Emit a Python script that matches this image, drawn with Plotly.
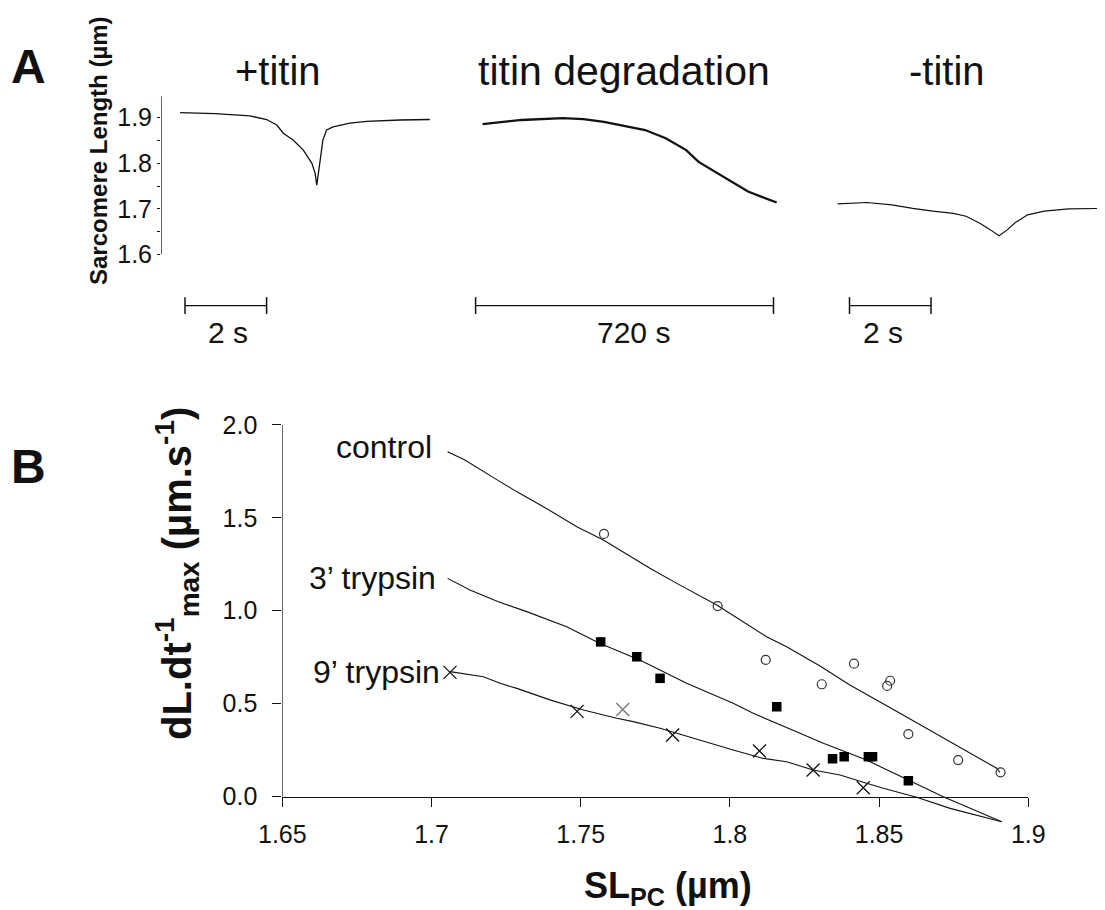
import plotly.graph_objects as go

W, H = 1105, 910
OFF = 8  # page body margin of the html page

# ---------------- Panel A data ----------------
# +titin trace (time in s, sarcomere length in um)
t1_time = [-0.12, 0.74, 1.59, 2.0, 2.25, 2.41, 2.65, 2.90, 3.11, 3.19, 3.23,
           3.31, 3.38, 3.47, 3.63, 4.04, 4.45, 5.27, 6.0]
t1_sl = [1.911, 1.909, 1.904, 1.896, 1.884, 1.866, 1.851, 1.829, 1.80, 1.778, 1.752,
         1.80, 1.851, 1.873, 1.880, 1.888, 1.892, 1.895, 1.896]

# titin degradation trace (time in s)
t2_time = [16.9, 111.4, 210.8, 260.5, 310.3, 359.9, 409.7, 459.5, 509.0, 539.0,
           578.6, 618.5, 658.4, 727.7]
t2_sl = [1.886, 1.895, 1.899, 1.897, 1.891, 1.882, 1.873, 1.855, 1.829, 1.803,
         1.782, 1.760, 1.738, 1.714]

# -titin trace (time in s)
t3_time = [-0.29, 0.43, 1.04, 1.55, 2.05, 2.55, 2.86, 3.21, 3.46, 3.67, 3.87,
           4.07, 4.37, 4.78, 5.38, 6.22]
t3_sl = [1.711, 1.714, 1.709, 1.701, 1.695, 1.690, 1.684, 1.668, 1.654, 1.641,
         1.654, 1.670, 1.687, 1.695, 1.700, 1.701]

panelA_titles = ["+titin", "titin degradation", "-titin"]
scale_bars = [[0, 2], [0, 720], [0, 2]]
scale_labels = ["2 s", "720 s", "2 s"]
sl_ticks = [1.6, 1.7, 1.8, 1.9]
sl_minor = [1.65, 1.75, 1.85]

# ---------------- Panel B data ----------------
ctrl_x = [1.7578, 1.7959, 1.8120, 1.8416, 1.8308, 1.8537, 1.8527, 1.8598, 1.8765, 1.8907]
ctrl_y = [1.413, 1.025, 0.735, 0.715, 0.604, 0.623, 0.595, 0.336, 0.196, 0.130]
ctrl_fit_x = [1.7054, 1.7112, 1.7224, 1.7285, 1.7375, 1.7487, 1.7576, 1.7665, 1.7732,
              1.7822, 1.7956, 1.8123, 1.8190, 1.8302, 1.8402, 1.8570, 1.8738, 1.8894, 1.8905]
ctrl_fit_y = [1.856, 1.811, 1.700, 1.641, 1.560, 1.452, 1.380, 1.291, 1.228,
              1.147, 1.031, 0.860, 0.806, 0.702, 0.600, 0.448, 0.295, 0.152, 0.130]

tr3_x = [1.7567, 1.7688, 1.7766, 1.8157, 1.8344, 1.8383, 1.8464, 1.8478, 1.8598]
tr3_y = [0.832, 0.752, 0.636, 0.483, 0.203, 0.214, 0.214, 0.214, 0.085]
tr3_fit_x = [1.7054, 1.7129, 1.7224, 1.7319, 1.7453, 1.7565, 1.7698, 1.7777, 1.7855,
             1.8011, 1.8078, 1.8235, 1.8313, 1.8458, 1.8598, 1.8715, 1.8911]
tr3_fit_y = [1.174, 1.111, 1.048, 0.995, 0.914, 0.824, 0.735, 0.672, 0.609,
             0.502, 0.448, 0.340, 0.286, 0.196, 0.089, -0.001, -0.136]

tr9_x = [1.7062, 1.7488, 1.7641, 1.7808, 1.8099, 1.8279, 1.8447]
tr9_y = [0.668, 0.458, 0.468, 0.331, 0.245, 0.143, 0.047]
tr9_fit_x = [1.7062, 1.7174, 1.7230, 1.7286, 1.7397, 1.7509, 1.7621, 1.7676, 1.7766,
             1.7877, 1.8011, 1.8112, 1.8190, 1.8279, 1.8369, 1.8458, 1.8514, 1.8626,
             1.8738, 1.8911]
tr9_fit_y = [0.672, 0.645, 0.609, 0.582, 0.520, 0.466, 0.421, 0.403, 0.367,
             0.313, 0.250, 0.205, 0.187, 0.143, 0.116, 0.071, 0.044, -0.004,
             -0.064, -0.136]

group_labels = ["control", "3’ trypsin", "9’ trypsin"]
xb_ticks = [1.65, 1.7, 1.75, 1.8, 1.85, 1.9]
xb_ticktext = ["1.65", "1.7", "1.75", "1.8", "1.85", "1.9"]
yb_ticks = [0.0, 0.5, 1.0, 1.5, 2.0]

FONT = "Liberation Sans, Arial, sans-serif"
BLACK = "#111111"
tr9_colors = [BLACK, BLACK, "#777777", BLACK, BLACK, BLACK, BLACK]


def px(x):
    return min(1.0, max(0.0, (x - OFF) / W))


def py(y):
    return min(1.0, max(0.0, 1 - (y - OFF) / H))


def rng_from_px(p0, p1, zero_px, px_per_unit):
    """axis range for a domain spanning screen pixels p0..p1"""
    return [(p0 - zero_px) / px_per_unit, (p1 - zero_px) / px_per_unit]


fig = go.Figure()

# ---------- Panel A traces ----------
fig.add_trace(go.Scatter(x=t1_time, y=t1_sl, mode="lines", xaxis="x", yaxis="y",
                         line=dict(color=BLACK, width=1.3), showlegend=False))
fig.add_trace(go.Scatter(x=t2_time, y=t2_sl, mode="lines", xaxis="x2", yaxis="y",
                         line=dict(color=BLACK, width=2.3), showlegend=False))
fig.add_trace(go.Scatter(x=t3_time, y=t3_sl, mode="lines", xaxis="x3", yaxis="y",
                         line=dict(color=BLACK, width=1.2), showlegend=False))

bar_y = 1.488
label_y = 1.428
axes_A = ["x", "x2", "x3"]
label_shift = [2, 9, -7]
for ax, bar, lab, sh in zip(axes_A, scale_bars, scale_labels, label_shift):
    fig.add_trace(go.Scatter(x=bar, y=[bar_y, bar_y], mode="lines+markers",
                             xaxis=ax, yaxis="y",
                             line=dict(color=BLACK, width=1.3),
                             marker=dict(symbol="line-ns", size=12,
                                         line=dict(color=BLACK, width=1.5)),
                             showlegend=False))
    fig.add_annotation(x=(bar[0] + bar[1]) / 2, y=label_y, xref=ax, yref="y",
                       text=lab, showarrow=False, xshift=sh,
                       xanchor="center", yanchor="middle",
                       font=dict(family=FONT, size=30, color=BLACK))

# ---------- Panel B traces ----------
fit_style = dict(color=BLACK, width=1.1)
for fx, fy in [(ctrl_fit_x, ctrl_fit_y), (tr3_fit_x, tr3_fit_y), (tr9_fit_x, tr9_fit_y)]:
    fig.add_trace(go.Scatter(x=fx, y=fy, mode="lines", xaxis="x4", yaxis="y4",
                             line=fit_style, showlegend=False))

fig.add_trace(go.Scatter(x=ctrl_x, y=ctrl_y, mode="markers", xaxis="x4", yaxis="y4",
                         marker=dict(symbol="circle-open", size=9, color="#333333",
                                     line=dict(width=1.2)),
                         showlegend=False))
fig.add_trace(go.Scatter(x=tr3_x, y=tr3_y, mode="markers", xaxis="x4", yaxis="y4",
                         marker=dict(symbol="square", size=9.5, color="black"),
                         showlegend=False))
fig.add_trace(go.Scatter(x=tr9_x, y=tr9_y, mode="markers", xaxis="x4", yaxis="y4",
                         marker=dict(symbol="x-thin-open", size=13, color=tr9_colors,
                                     line=dict(width=1.3)),
                         showlegend=False))

# group labels at the start of each fitted line
label_offsets = [(-14, 5), (-10, 0), (-8, 0)]
for lab, fx, fy, (dx, dy) in zip(group_labels,
                                 [ctrl_fit_x, tr3_fit_x, tr9_fit_x],
                                 [ctrl_fit_y, tr3_fit_y, tr9_fit_y],
                                 label_offsets):
    fig.add_annotation(x=fx[0], y=fy[0], xref="x4", yref="y4", text=lab,
                       showarrow=False, xanchor="right", yanchor="middle",
                       xshift=dx, yshift=dy,
                       font=dict(family=FONT, size=32, color=BLACK))

# ---------- Layout geometry (screen pixels of the reference) ----------
# panel A: shared sarcomere-length axis, 1.9 um at y=117.7 px, 456 px per um
A_top, A_bot = 90, 340
yA_rng = [1.9 - (A_bot - 117.7) / 456, 1.9 + (117.7 - A_top) / 456]
yA_dom = [py(A_bot), py(A_top)]
A_x_px = [(161, 440), (470, 790), (830, OFF + W)]
A_zero = [185, 475.6, 849.5]          # pixel where each scale bar starts
A_scale = [40.8, 1 / 2.417, 40.75]    # pixels per second
xA_doms = [[px(a), px(b)] for a, b in A_x_px]
xA_rngs = [rng_from_px(a, b, z, s) for (a, b), z, s in zip(A_x_px, A_zero, A_scale)]

# panel B: 1.65 at x=282.3 px, 2984 px per um; 0 at y=796.5 px, 185.8 px per unit
xB_px = (282.3, 1028.3)
xB_rng = [1.65, 1.9]
xB_dom = [px(xB_px[0]), px(xB_px[1])]
yB_rng = [-0.16, 2.02]
yB_dom = [py(796.5 - yB_rng[0] * 185.8), py(796.5 - yB_rng[1] * 185.8)]
xB_pos = yB_dom[0] + (0 - yB_rng[0]) / (yB_rng[1] - yB_rng[0]) * (yB_dom[1] - yB_dom[0])

hidden = dict(visible=False, showgrid=False, zeroline=False, automargin=False)
layout = dict(
    width=W, height=H,
    autosize=False,
    margin=dict(l=0, r=0, t=0, b=0, pad=0, autoexpand=False),
    paper_bgcolor="white", plot_bgcolor="white",
    font=dict(family=FONT, color=BLACK),
    showlegend=False,
    xaxis=dict(domain=xA_doms[0], range=xA_rngs[0], anchor="y", **hidden),
    xaxis2=dict(domain=xA_doms[1], range=xA_rngs[1], anchor="y", **hidden),
    xaxis3=dict(domain=xA_doms[2], range=xA_rngs[2], anchor="y", **hidden),
    yaxis=dict(domain=yA_dom, range=yA_rng, anchor="x", showline=False,
               showgrid=False, zeroline=False, automargin=False,
               ticks="outside", ticklen=3, tickwidth=1, tickcolor=BLACK,
               tickmode="array", tickvals=sl_ticks, tickformat=".1f",
               ticklabelstandoff=0,
               minor=dict(tickmode="array", tickvals=sl_minor, ticks="outside",
                          ticklen=3, tickwidth=1, tickcolor=BLACK, showgrid=False),
               tickfont=dict(family=FONT, size=25, color=BLACK)),
    xaxis4=dict(domain=xB_dom, range=xB_rng, anchor="free", position=xB_pos,
                showline=True, linecolor=BLACK, linewidth=1.2, showgrid=False,
                zeroline=False, automargin=False, ticks="outside", ticklen=9,
                tickwidth=1.2, tickcolor=BLACK, tickmode="array", tickvals=xb_ticks,
                ticktext=xb_ticktext, ticklabelstandoff=6,
                tickfont=dict(family=FONT, size=25, color=BLACK)),
    yaxis4=dict(domain=yB_dom, range=yB_rng, anchor="x4", showline=False,
                showgrid=False, zeroline=False, automargin=False, ticks="outside",
                ticklen=9, tickwidth=1.2, tickcolor=BLACK, tickmode="array",
                tickvals=yb_ticks, tickformat=".1f", ticklabelstandoff=10,
                tickfont=dict(family=FONT, size=25, color=BLACK)),
)
fig.update_layout(**layout)

# axis lines drawn only over the labelled span
fig.add_shape(type="line", xref="x", yref="y", x0=xA_rngs[0][0], x1=xA_rngs[0][0],
              y0=sl_ticks[0], y1=1.947, line=dict(color=BLACK, width=1.3))
fig.add_shape(type="line", xref="x4", yref="y4", x0=xB_rng[0], x1=xB_rng[0],
              y0=yb_ticks[0], y1=yb_ticks[-1], line=dict(color=BLACK, width=1.2))


# ---------- Text ----------
def paper_text(x, y, text, size, angle=0):
    fig.add_annotation(x=px(x), y=py(y), xref="paper", yref="paper", text=text,
                       showarrow=False, xanchor="center", yanchor="middle",
                       textangle=angle, font=dict(family=FONT, size=size, color=BLACK))


title_x = [278, 624, 947]
title_size = [40, 41, 40]
for t, x, s in zip(panelA_titles, title_x, title_size):
    paper_text(x, 71, t, s)

paper_text(28, 67, "<b>A</b>", 48)
paper_text(28, 466, "<b>B</b>", 48)
paper_text(98, 151, "<b>Sarcomere Length (µm)</b>", 24, -90)
paper_text(177, 574, "<b>dL.dt<sup>-1</sup><sub>max</sub> (µm.s<sup>-1</sup>)</b>", 40, -90)
paper_text(668, 888, "<b>SL<sub>PC</sub> (µm)</b>", 36)

fig.write_html("out.html")
